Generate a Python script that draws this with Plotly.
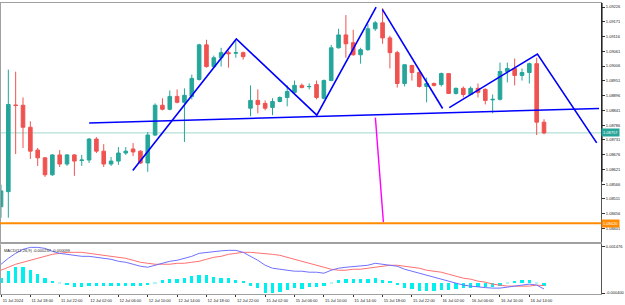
import plotly.graph_objects as go

# ---------------- data ----------------
bar_index = list(range(75))  # hourly bars, 11 Jul 14:00 .. 16 Jul 16:00

opens = [1.08482, 1.08538, 1.08861, 1.08860, 1.08778, 1.08693, 1.08664, 1.08601, 1.08675, 1.08641,
         1.08675, 1.08654, 1.08656, 1.08734, 1.08689, 1.08641, 1.08652, 1.08682, 1.08697, 1.08689,
         1.08645, 1.08749, 1.08860, 1.08845, 1.08893, 1.08871, 1.08893, 1.08956, 1.09085, 1.09004,
         1.09037, 1.09056, 1.09054, 1.09056, 1.08849, 1.08878, 1.08867, 1.08852, 1.08874, 1.08889,
         1.08908, 1.08934, 1.08929, 1.08937, 1.08886, 1.08952, 1.09074, 1.09122, 1.09093, 1.09048,
         1.09067, 1.09145, 1.09167, 1.09111, 1.09056, 1.08941, 1.09008, 1.08982, 1.08930, 1.08941,
         1.08937, 1.08978, 1.08904, 1.08923, 1.08900, 1.08923, 1.08919, 1.08880, 1.08882, 1.08986,
         1.08997, 1.08971, 1.08982, 1.09015, 1.08797]
highs = [1.08564, 1.08993, 1.08985, 1.08889, 1.08800, 1.08701, 1.08667, 1.08678, 1.08693, 1.08678,
         1.08678, 1.08675, 1.08738, 1.08741, 1.08715, 1.08667, 1.08704, 1.08704, 1.08719, 1.08692,
         1.08760, 1.08867, 1.08886, 1.08915, 1.08919, 1.08923, 1.08974, 1.09089, 1.09104, 1.09045,
         1.09074, 1.09063, 1.09100, 1.09060, 1.08934, 1.08919, 1.08878, 1.08886, 1.08893, 1.08934,
         1.08952, 1.08941, 1.08941, 1.08952, 1.08956, 1.09085, 1.09145, 1.09196, 1.09141, 1.09074,
         1.09163, 1.09174, 1.09222, 1.09119, 1.09063, 1.09011, 1.09011, 1.08989, 1.08963, 1.08945,
         1.08982, 1.08980, 1.08926, 1.08930, 1.08930, 1.08941, 1.08923, 1.08900, 1.09019, 1.09019,
         1.09034, 1.08997, 1.09019, 1.09037, 1.08808]
lows = [1.08441, 1.08441, 1.08678, 1.08701, 1.08660, 1.08634, 1.08593, 1.08597, 1.08630, 1.08634,
        1.08597, 1.08634, 1.08645, 1.08682, 1.08630, 1.08634, 1.08638, 1.08675, 1.08671, 1.08641,
        1.08612, 1.08745, 1.08841, 1.08841, 1.08867, 1.08723, 1.08882, 1.08952, 1.09000, 1.09000,
        1.09004, 1.09000, 1.09037, 1.09030, 1.08819, 1.08830, 1.08841, 1.08823, 1.08871, 1.08856,
        1.08904, 1.08923, 1.08919, 1.08882, 1.08882, 1.08950, 1.09071, 1.09037, 1.09045, 1.09015,
        1.09063, 1.09137, 1.09089, 1.08997, 1.08926, 1.08930, 1.08952, 1.08926, 1.08871, 1.08930,
        1.08930, 1.08902, 1.08900, 1.08889, 1.08897, 1.08889, 1.08863, 1.08830, 1.08878, 1.08945,
        1.08934, 1.08952, 1.08941, 1.08749, 1.08752]
closes = [1.08541, 1.08863, 1.08859, 1.08778, 1.08689, 1.08664, 1.08601, 1.08675, 1.08641, 1.08675,
          1.08652, 1.08656, 1.08734, 1.08689, 1.08641, 1.08652, 1.08682, 1.08689, 1.08686, 1.08645,
          1.08749, 1.08860, 1.08845, 1.08893, 1.08871, 1.08897, 1.08960, 1.09085, 1.09004, 1.09037,
          1.09056, 1.09052, 1.09056, 1.09041, 1.08878, 1.08863, 1.08849, 1.08874, 1.08889, 1.08911,
          1.08934, 1.08926, 1.08930, 1.08889, 1.08952, 1.09074, 1.09122, 1.09089, 1.09048, 1.09067,
          1.09145, 1.09167, 1.09111, 1.09056, 1.08941, 1.09011, 1.08982, 1.08930, 1.08941, 1.08934,
          1.08978, 1.08904, 1.08923, 1.08900, 1.08923, 1.08908, 1.08878, 1.08882, 1.08986, 1.08997,
          1.08971, 1.08982, 1.09015, 1.08797, 1.08757]

macd_main = [0.000760, 0.001000, 0.001200, 0.001360, 0.001440, 0.001440, 0.001400, 0.001280, 0.001200, 0.001160,
             0.001120, 0.001080, 0.001080, 0.001040, 0.001000, 0.000960, 0.000880, 0.000840, 0.000760, 0.000680,
             0.000640, 0.000720, 0.000800, 0.000880, 0.000920, 0.001000, 0.001080, 0.001200, 0.001240, 0.001280,
             0.001300, 0.001320, 0.001320, 0.001240, 0.001080, 0.000920, 0.000720, 0.000600, 0.000560, 0.000520,
             0.000480, 0.000480, 0.000440, 0.000440, 0.000400, 0.000520, 0.000600, 0.000640, 0.000660, 0.000680,
             0.000720, 0.000800, 0.000760, 0.000720, 0.000680, 0.000560, 0.000480, 0.000400, 0.000320, 0.000240,
             0.000160, 0.000080, 0.000000, -0.000080, -0.000120, -0.000160, -0.000180, -0.000200, -0.000200, -0.000160,
             -0.000120, -0.000080, -0.000040, -0.000080, -0.000237]
macd_signal = [0.000520, 0.000640, 0.000760, 0.000840, 0.000920, 0.001000, 0.001080, 0.001160, 0.001200, 0.001240,
               0.001240, 0.001240, 0.001200, 0.001160, 0.001120, 0.001080, 0.001040, 0.001000, 0.000920, 0.000840,
               0.000800, 0.000760, 0.000760, 0.000760, 0.000800, 0.000800, 0.000840, 0.000880, 0.000960, 0.001040,
               0.001080, 0.001160, 0.001200, 0.001240, 0.001240, 0.001220, 0.001200, 0.001160, 0.001120, 0.001040,
               0.000960, 0.000880, 0.000800, 0.000720, 0.000640, 0.000560, 0.000520, 0.000520, 0.000560, 0.000560,
               0.000600, 0.000640, 0.000680, 0.000720, 0.000720, 0.000680, 0.000640, 0.000600, 0.000520, 0.000480,
               0.000440, 0.000360, 0.000280, 0.000200, 0.000160, 0.000080, 0.000040, -0.000040, -0.000080, -0.000120,
               -0.000120, -0.000120, -0.000120, -0.000080, -0.000099]
macd_hist = [0.000200, 0.000480, 0.000640, 0.000640, 0.000520, 0.000360, 0.000200, 0.000060, -0.000040, -0.000110,
             -0.000170, -0.000170, -0.000130, -0.000130, -0.000130, -0.000130, -0.000130, -0.000130, -0.000130, -0.000130,
             -0.000110, -0.000020, 0.000110, 0.000170, 0.000170, 0.000200, 0.000270, 0.000320, 0.000310, 0.000240,
             0.000200, 0.000200, 0.000110, 0.000070, -0.000130, -0.000230, -0.000400, -0.000400, -0.000360, -0.000290,
             -0.000230, -0.000270, -0.000160, -0.000160, -0.000130, -0.000020, 0.000110, 0.000170, 0.000150, 0.000150,
             0.000170, 0.000200, 0.000130, 0.000070, -0.000090, -0.000200, -0.000270, -0.000330, -0.000330, -0.000320,
             -0.000290, -0.000290, -0.000250, -0.000230, -0.000200, -0.000190, -0.000190, -0.000160, -0.000130, -0.000040,
             0.000070, 0.000110, 0.000130, -0.000040, -0.000120]

time_tick_index = [0, 4, 8, 12, 16, 20, 24, 28, 32, 36, 40, 44, 48, 52, 56, 60, 64, 68, 72]
time_tick_text = ["11 Jul 2024", "11 Jul 18:00", "11 Jul 22:00", "12 Jul 02:00", "12 Jul 06:00",
                  "12 Jul 10:00", "12 Jul 14:00", "12 Jul 18:00", "12 Jul 22:00", "15 Jul 02:00",
                  "15 Jul 06:00", "15 Jul 10:00", "15 Jul 14:00", "15 Jul 18:00", "15 Jul 22:00",
                  "16 Jul 02:00", "16 Jul 06:00", "16 Jul 10:00", "16 Jul 14:00"]
price_ticks = [1.09226, 1.09171, 1.09116, 1.09061, 1.09006, 1.08951, 1.08896, 1.08841,
               1.08786, 1.08731, 1.08676, 1.08621, 1.08566, 1.08511, 1.08456, 1.08401]
price_tick_text = ["1.09226", "1.09171", "1.09116", "1.09061", "1.09006", "1.08951", "1.08896", "1.08841",
                   "1.08786", "1.08731", "1.08676", "1.08621", "1.08566", "1.08511", "1.08456", "1.08401"]
macd_ticks = [0.001476, -0.000400]
macd_tick_text = ["0.001476", "-0.000400"]

# drawn objects (bar index, price)
zigzag_a_x = [17.96, 32.07, 43.04, 51.12]
zigzag_a_y = [1.08617, 1.09107, 1.08823, 1.09226]
zigzag_b_x = [51.97, 60.18]
zigzag_b_y = [1.09217, 1.08848]
zigzag_c_x = [61.09, 73.10, 81.18]
zigzag_c_y = [1.08851, 1.09051, 1.08720]
neckline_x = [12.01, 81.50]
neckline_y = [1.08794, 1.08848]
target_x = [51.02, 52.11]
target_y = [1.08814, 1.08424]
alert_level = 1.08420
alert_text = "1.08420"
last_price = closes[-1]
last_text = "1.08757"
macd_caption = "MACD(12,26,9) -0.000237 -0.000099"

# ---------------- figure ----------------
W, H = 625, 305
GREEN, RED = "#26a69a", "#ef5350"
FONT = "Liberation Sans"

fig = go.Figure()

fig.add_trace(go.Candlestick(
    x=bar_index, open=opens, high=highs, low=lows, close=closes,
    increasing=dict(line=dict(color=GREEN, width=1), fillcolor=GREEN),
    decreasing=dict(line=dict(color=RED, width=1), fillcolor=RED),
    whiskerwidth=0, hoverinfo="skip", xaxis="x", yaxis="y"))

for xs, ys in [(zigzag_a_x, zigzag_a_y), (zigzag_b_x, zigzag_b_y),
               (zigzag_c_x, zigzag_c_y), (neckline_x, neckline_y)]:
    fig.add_trace(go.Scatter(x=xs, y=ys, mode="lines", line=dict(color="#0000ff", width=1.6),
                             hoverinfo="skip", xaxis="x", yaxis="y"))
fig.add_trace(go.Scatter(x=target_x, y=target_y, mode="lines", line=dict(color="#ff00ff", width=1.4),
                         hoverinfo="skip", xaxis="x", yaxis="y"))

hist_colors = ["#b0f6f6" if abs(v) < 0.00005 else "#00f0f0" for v in macd_hist]
fig.add_trace(go.Bar(x=bar_index, y=macd_hist, marker=dict(color=hist_colors, line=dict(width=0)),
                     width=0.45, hoverinfo="skip", xaxis="x2", yaxis="y2"))
fig.add_trace(go.Scatter(x=bar_index, y=macd_signal, mode="lines", line=dict(color="#ff7070", width=1),
                         hoverinfo="skip", xaxis="x2", yaxis="y2"))
fig.add_trace(go.Scatter(x=bar_index, y=macd_main, mode="lines", line=dict(color="#7070ff", width=1),
                         hoverinfo="skip", xaxis="x2", yaxis="y2"))

x_right = 602 / W
price_dom = [62 / H, 303 / H]
macd_dom = [10 / H, 60 / H]
x_range = [-0.136, 81.77]

axis_font = dict(family=FONT, size=4, color="#222222")

fig.update_layout(
    width=W, height=H, margin=dict(l=0, r=0, t=0, b=0),
    paper_bgcolor="white", plot_bgcolor="white", showlegend=False,
    bargap=0,
    xaxis=dict(domain=[0, x_right], range=x_range, showticklabels=False, ticks="",
               showgrid=False, zeroline=False, showline=True, mirror=True, linecolor="#a0a0a0",
               linewidth=1, rangeslider=dict(visible=False), anchor="y"),
    yaxis=dict(domain=price_dom, range=[1.08349, 1.09241], side="right", anchor="x",
               tickvals=price_ticks, ticktext=price_tick_text, tickfont=axis_font,
               ticks="outside", ticklen=3, tickcolor="#333333", showgrid=False, zeroline=False,
               showline=True, linecolor="#555555", linewidth=1),
    xaxis2=dict(domain=[0, x_right], range=x_range, anchor="y2", matches="x",
                tickvals=time_tick_index, ticktext=time_tick_text, tickfont=axis_font,
                ticks="outside", ticklen=2, tickcolor="#333333", ticklabelshift=12,
                showgrid=False, zeroline=False, showline=True, mirror=True,
                linecolor="#a0a0a0", linewidth=1),
    yaxis2=dict(domain=macd_dom, range=[-0.00044, 0.00156], side="right", anchor="x2",
                tickvals=macd_ticks, ticktext=macd_tick_text, tickfont=axis_font,
                ticks="outside", ticklen=3, tickcolor="#333333", showgrid=False, zeroline=False,
                showline=True, linecolor="#555555", linewidth=1),
)

# left borders
for dom in (price_dom, macd_dom):
    fig.add_shape(type="line", xref="paper", yref="paper", x0=0.5 / W, x1=0.5 / W, y0=dom[0], y1=dom[1],
                  line=dict(color="#a0a0a0", width=1))
# darker upper part of the price scale
fig.add_shape(type="line", xref="paper", yref="paper", x0=x_right + 0.8 / W, x1=x_right + 0.8 / W,
              y0=(H - 182) / H, y1=price_dom[1], line=dict(color="#222222", width=1.5))

# current price line and alert line
fig.add_shape(type="line", xref="paper", yref="y", x0=0, x1=x_right, y0=last_price, y1=last_price,
              line=dict(color="#9fd8cf", width=1), layer="below")
fig.add_shape(type="line", xref="paper", yref="y", x0=0, x1=x_right, y0=alert_level, y1=alert_level,
              line=dict(color="#ff8c00", width=2))

fig.add_annotation(xref="paper", yref="y", x=x_right, y=last_price, text=last_text, showarrow=False,
                   xanchor="left", yanchor="middle", bgcolor=GREEN, borderpad=1,
                   font=dict(family=FONT, size=4, color="white"))
fig.add_annotation(xref="paper", yref="y", x=x_right, y=alert_level, text=alert_text, showarrow=False,
                   xanchor="left", yanchor="middle", bgcolor="#ff8c00", borderpad=1,
                   font=dict(family=FONT, size=4, color="white"))
fig.add_annotation(xref="paper", yref="paper", x=2 / W, y=(H - 247) / H, text=macd_caption, showarrow=False,
                   xanchor="left", yanchor="top", font=dict(family=FONT, size=4, color="#222222"))

fig.write_html("out.html", config={"displayModeBar": False})
